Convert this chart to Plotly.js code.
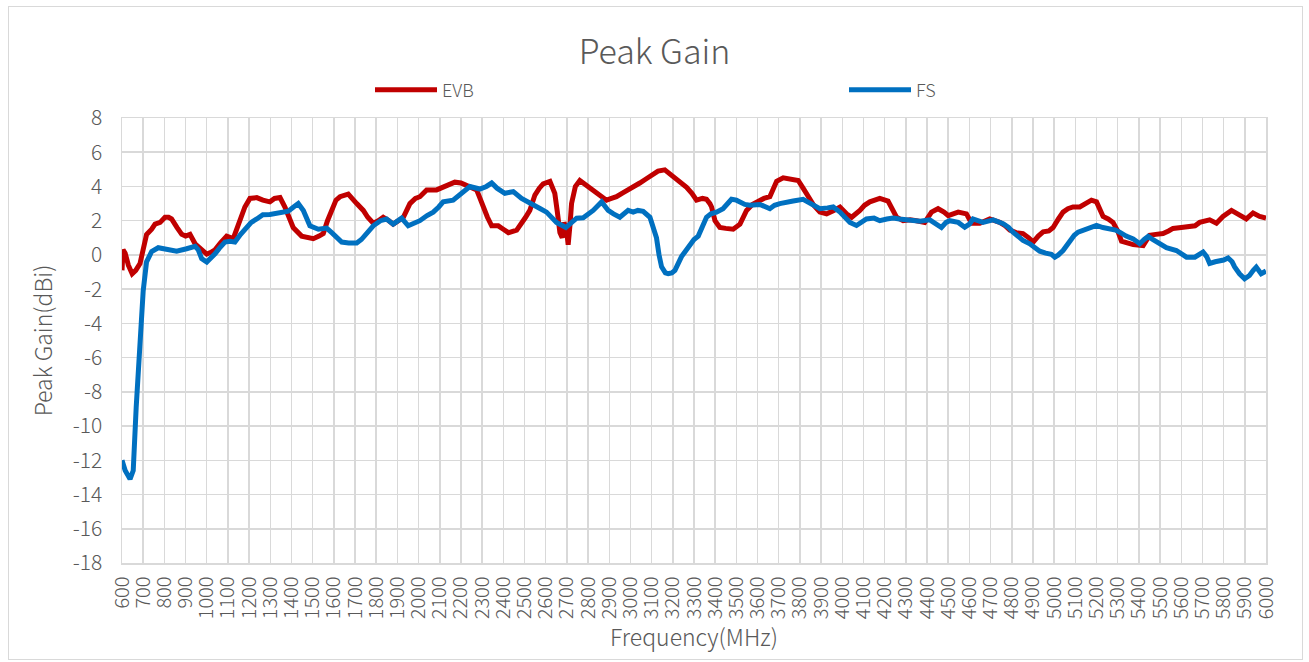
<!DOCTYPE html>
<html>
<head>
<meta charset="utf-8">
<script src="https://cdn.plot.ly/plotly-3.0.1.min.js"></script>
<style>
html,body{margin:0;padding:0;background:#fff;}
#wrap{position:relative;width:1309px;height:662px;}
#chart{width:1309px;height:662px;}
#frame{position:absolute;left:8px;top:6px;width:1295px;height:654px;border:1.5px solid #d9d9d9;pointer-events:none;box-sizing:border-box;}
</style>
</head>
<body>
<div id="wrap"><div id="chart"></div><div id="frame"></div></div>
<script>
const chartTitle = "Peak Gain";
const xTitle = "Frequency(MHz)";
const yTitle = "Peak Gain(dBi)";
const seriesNames = ["EVB", "FS"];
const xTickVals = [600,700,800,900,1000,1100,1200,1300,1400,1500,1600,1700,1800,1900,2000,2100,2200,2300,2400,2500,2600,2700,2800,2900,3000,3100,3200,3300,3400,3500,3600,3700,3800,3900,4000,4100,4200,4300,4400,4500,4600,4700,4800,4900,5000,5100,5200,5300,5400,5500,5600,5700,5800,5900,6000];
const yTickVals = [-18,-16,-14,-12,-10,-8,-6,-4,-2,0,2,4,6,8];

const freqEVB = [600,605,615,630,648,665,685,700,716,740,756,780,803,820,834,860,882,900,921,945,968,1000,1020,1039,1065,1094,1125,1157,1180,1204,1236,1265,1298,1320,1346,1369,1390,1408,1448,1475,1503,1530,1550,1570,1590,1610,1629,1668,1708,1739,1760,1786,1810,1833,1860,1880,1905,1928,1959,1985,2006,2038,2085,2110,2132,2171,2200,2227,2274,2290,2305,2325,2345,2376,2400,2424,2463,2486,2505,2525,2549,2570,2588,2620,2643,2655,2667,2678,2686,2698,2706,2715,2722,2740,2761,2793,2815,2840,2865,2887,2910,2934,2960,2982,3010,3044,3075,3107,3130,3162,3190,3218,3240,3265,3290,3312,3340,3359,3375,3383,3399,3422,3450,3485,3517,3548,3575,3595,3630,3658,3675,3690,3721,3760,3792,3815,3839,3865,3894,3926,3960,3989,4020,4044,4083,4105,4130,4177,4216,4240,4256,4287,4320,4350,4389,4421,4452,4480,4500,4547,4586,4610,4649,4696,4743,4770,4791,4820,4853,4880,4901,4925,4948,4975,4995,5020,5042,5065,5089,5121,5150,5176,5200,5231,5255,5278,5300,5318,5345,5373,5420,5451,5480,5514,5540,5561,5600,5640,5665,5687,5734,5766,5797,5837,5876,5907,5939,5970,6000];
const gainEVB = [-0.9,0.3,0.1,-0.6,-1.1,-0.9,-0.5,0.5,1.2,1.5,1.8,1.9,2.2,2.2,2.1,1.6,1.2,1.1,1.2,0.65,0.36,0.05,0.15,0.3,0.7,1.1,0.95,2.0,2.8,3.3,3.35,3.2,3.1,3.3,3.35,2.8,2.1,1.6,1.1,1.0,0.95,1.1,1.25,2.0,2.6,3.2,3.4,3.55,3.0,2.6,2.2,1.85,2.0,2.2,2.0,1.8,2.0,2.2,3.0,3.3,3.4,3.8,3.8,3.95,4.05,4.25,4.2,4.05,3.8,3.3,2.8,2.2,1.7,1.7,1.5,1.3,1.45,1.8,2.2,2.6,3.5,3.9,4.15,4.3,3.6,2.5,1.3,1.0,1.9,1.5,0.6,1.8,3.0,4.0,4.35,4.05,3.85,3.65,3.4,3.2,3.3,3.4,3.6,3.75,3.9,4.2,4.45,4.7,4.9,4.97,4.7,4.4,4.15,3.95,3.6,3.2,3.3,3.25,3.0,2.8,2.0,1.6,1.55,1.5,1.8,2.6,2.95,3.1,3.3,3.4,3.8,4.3,4.5,4.4,4.35,3.9,3.4,2.9,2.5,2.4,2.6,2.8,2.4,2.2,2.6,2.9,3.1,3.3,3.15,2.6,2.2,2.0,2.05,2.0,1.9,2.5,2.7,2.5,2.3,2.5,2.4,1.85,1.85,2.1,1.9,1.7,1.45,1.3,1.25,1.0,0.75,1.1,1.35,1.4,1.6,2.1,2.5,2.7,2.8,2.8,3.0,3.2,3.1,2.25,2.1,1.9,1.4,0.8,0.7,0.6,0.55,1.15,1.2,1.25,1.4,1.55,1.6,1.65,1.7,1.9,2.05,1.85,2.25,2.6,2.3,2.1,2.45,2.25,2.15];

const freqFS = [600,615,638,653,667,685,700,716,730,740,771,810,858,905,945,960,976,1000,1020,1039,1060,1086,1110,1133,1160,1188,1210,1236,1265,1298,1320,1346,1385,1410,1432,1456,1487,1527,1566,1590,1605,1637,1670,1708,1730,1755,1786,1820,1849,1880,1920,1951,1980,2006,2040,2069,2095,2116,2163,2203,2242,2289,2320,2345,2370,2407,2447,2486,2520,2549,2575,2604,2630,2651,2695,2720,2746,2777,2800,2824,2864,2895,2920,2950,2989,3013,3035,3060,3092,3110,3123,3135,3147,3165,3178,3195,3210,3241,3280,3300,3320,3340,3359,3380,3406,3437,3460,3477,3500,3517,3540,3564,3611,3658,3680,3705,3740,3768,3815,3840,3862,3894,3930,3957,3989,4010,4036,4067,4090,4114,4150,4177,4210,4240,4270,4303,4340,4366,4413,4440,4468,4490,4507,4547,4578,4600,4617,4664,4712,4759,4785,4806,4830,4853,4885,4910,4932,4960,4987,5003,5020,5042,5073,5095,5113,5140,5176,5200,5230,5262,5290,5309,5340,5373,5404,5425,5444,5465,5483,5505,5530,5577,5600,5625,5664,5685,5703,5720,5734,5760,5781,5800,5821,5840,5852,5875,5899,5922,5940,5954,5977,6000];
const gainFS = [-12.0,-12.6,-13.1,-12.6,-8.9,-5.0,-2.1,-0.4,0.0,0.2,0.42,0.36,0.22,0.36,0.5,0.3,-0.22,-0.42,-0.2,0.07,0.4,0.75,0.8,0.75,1.2,1.6,1.9,2.1,2.35,2.36,2.4,2.44,2.56,2.8,3.0,2.6,1.7,1.5,1.57,1.3,1.14,0.75,0.7,0.7,0.9,1.25,1.7,2.0,2.1,1.8,2.15,1.7,1.85,2.0,2.3,2.5,2.8,3.1,3.2,3.6,4.0,3.85,4.0,4.2,3.9,3.6,3.7,3.3,3.1,2.9,2.7,2.5,2.2,1.9,1.6,1.9,2.15,2.17,2.4,2.6,3.1,2.6,2.4,2.2,2.6,2.5,2.6,2.55,2.2,1.6,1.0,0.0,-0.7,-1.05,-1.1,-1.05,-0.9,-0.1,0.65,0.9,1.1,1.6,2.2,2.4,2.5,2.7,3.0,3.25,3.2,3.1,2.95,2.9,2.95,2.7,2.9,3.0,3.05,3.15,3.25,3.1,2.9,2.7,2.75,2.8,2.5,2.2,1.9,1.72,1.9,2.1,2.15,2.0,2.1,2.15,2.1,2.05,2.0,1.97,2.05,1.85,1.6,1.9,2.0,1.9,1.62,1.8,2.1,1.9,2.05,1.82,1.6,1.33,1.05,0.85,0.65,0.4,0.22,0.1,0.03,-0.13,0.0,0.26,0.85,1.15,1.33,1.45,1.62,1.72,1.6,1.53,1.45,1.33,1.1,0.94,0.65,0.9,1.08,0.9,0.75,0.6,0.42,0.26,0.1,-0.13,-0.13,0.0,0.17,-0.1,-0.5,-0.4,-0.36,-0.3,-0.18,-0.4,-0.7,-1.1,-1.39,-1.2,-0.9,-0.71,-1.1,-0.94];

const colors = ["#c00000", "#0070c0"];
const fontFam = "'Noto Sans CJK SC', 'Noto Sans', sans-serif";
const grey = "#595959";
const gridCol = "#d9d9d9";

const traces = [
  {x: freqEVB, y: gainEVB, name: seriesNames[0], type: "scatter", mode: "lines",
   line: {color: colors[0], width: 5}, legend: "legend"},
  {x: freqFS, y: gainFS, name: seriesNames[1], type: "scatter", mode: "lines",
   line: {color: colors[1], width: 5}, legend: "legend2"}
];

const legendBase = {orientation: "h", xanchor: "left", y: 1.063, yanchor: "middle",
  font: {size: 18, color: grey, family: fontFam, weight: 300}, itemwidth: 62,
  bgcolor: "rgba(0,0,0,0)"};

const layout = {
  width: 1309, height: 662,
  margin: {l: 122, r: 43, t: 118, b: 99},
  paper_bgcolor: "#ffffff", plot_bgcolor: "#ffffff",
  font: {family: fontFam, color: grey},
  title: {text: chartTitle, font: {size: 34, color: grey, family: fontFam, weight: 300},
          x: 0.5, xanchor: "center", y: 0.921, yanchor: "middle"},
  showlegend: true,
  legend: Object.assign({}, legendBase, {x: (370 - 122) / 1144}),
  legend2: Object.assign({}, legendBase, {x: (844 - 122) / 1144}),
  xaxis: {
    range: [600, 6000], tickmode: "array", tickvals: xTickVals, ticktext: xTickVals.map(String),
    tickangle: -90, tickfont: {size: 20, color: grey, family: fontFam, weight: 300},
    showgrid: true, gridcolor: gridCol, gridwidth: 1.5,
    showline: true, linecolor: gridCol, linewidth: 1.5, mirror: true,
    zeroline: false, ticks: "", ticklabelstandoff: 4,
    title: {text: xTitle, font: {size: 23, color: grey, family: fontFam, weight: 300}, standoff: 2}
  },
  yaxis: {
    range: [-18, 8], tickmode: "array", tickvals: yTickVals, ticktext: yTickVals.map(String),
    tickfont: {size: 21, color: grey, family: fontFam, weight: 300},
    showgrid: true, gridcolor: gridCol, gridwidth: 1.5,
    showline: true, linecolor: gridCol, linewidth: 1.5, mirror: true,
    zeroline: false, ticks: "", ticklabelstandoff: 14,
    title: {text: yTitle, font: {size: 23, color: grey, family: fontFam, weight: 300}, standoff: 14}
  }
};

Plotly.newPlot("chart", traces, layout, {displayModeBar: false, staticPlot: true});
</script>
</body>
</html>
